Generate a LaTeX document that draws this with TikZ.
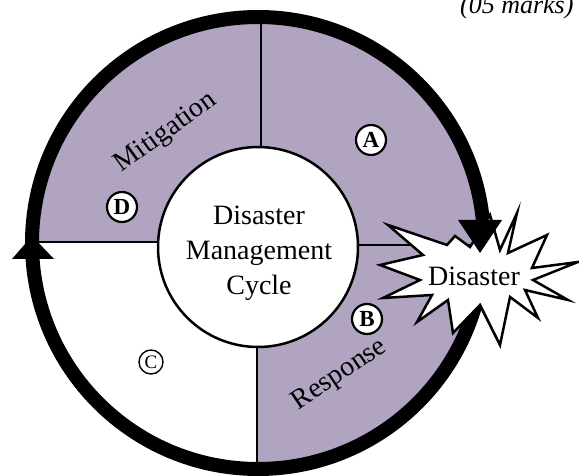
\documentclass[tikz,border=0pt]{standalone}
\usepackage{fontspec}
\setmainfont{Liberation Serif}
\definecolor{hatch}{RGB}{176,164,192}
\tikzset{
  letter/.style={circle,draw,line width=2.2pt,fill=white,inner sep=0pt,minimum size=30pt,font=\fontsize{23}{23}\selectfont\bfseries},
  phase/.style={font=\fontsize{28}{28}\selectfont},
  divider/.style={line width=2.5pt}
}
\begin{document}
\begin{tikzpicture}[x=1pt,y=-1pt]
\clip (0,0) rectangle (579,476);
\coordinate (o) at (258,243);
% shaded ring, white quarter and dividers
\fill[hatch] (o) circle (226);
\begin{scope}
\clip (o) circle (226);
\fill[white] (0,242) rectangle (257,476);
\draw[divider] (261,0) -- (261,160);
\draw[divider] (0,242) -- (170,242);
\draw[divider] (350,245) -- (490,245);
\draw[divider] (257,340) -- (257,476);
\end{scope}
\draw[line width=14pt] (o) circle (226);
% hub
\node[circle,draw,line width=2.5pt,fill=white,minimum size=200pt,inner sep=0pt] (hub) at (258,247) {};
\node[align=center,font=\fontsize{28}{35}\selectfont] (hubtext) at (259,253) {Disaster\\Management\\Cycle};
% burst
\draw[fill=white,line width=2.5pt,line join=miter,miter limit=20]
  (380,265) -- (423,255) -- (388,225) -- (447,245) -- (455,236) -- (470,247) -- (490,215)
  -- (500,250) -- (517,213) -- (508,253) -- (547,235) -- (532,268) -- (578,262)
  -- (533,280) -- (568,300) -- (525,290) -- (538,318) -- (510,297) -- (500,345)
  -- (480,305) -- (453,333) -- (448,300) -- (417,322) -- (432,295) -- (383,298)
  -- (420,280) -- cycle;
\node[font=\fontsize{28}{28}\selectfont] (disaster) at (474,276) {Disaster};
% arrow heads
\fill (32,236) -- (12,259) -- (54,259) -- cycle;
\fill (480,253) -- (458,220) -- (502,220) -- cycle;
% labels
\node[phase,rotate=36] (mitigation) at (166,133) {Mitigation};
\node[phase,rotate=34] (response) at (340,375) {Response};
\node[letter] (a) at (371,140) {A};
\node[letter] (b) at (367,319) {B};
\node[letter] (d) at (122,207) {D};
\node[circle,draw,line width=1.4pt,inner sep=0pt,minimum size=24pt,font=\fontsize{19}{19}\selectfont] (c) at (151,362) {C};
\node[anchor=base east,font=\fontsize{26}{26}\selectfont\itshape] (marks) at (577,14) {(05 marks)};
\end{tikzpicture}
\end{document}
